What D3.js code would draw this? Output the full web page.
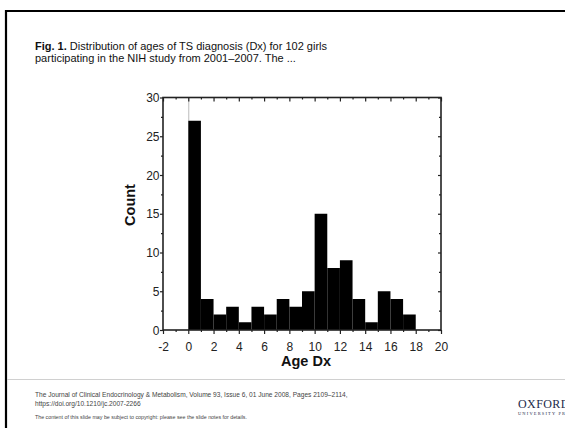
<!DOCTYPE html>
<html>
<head>
<meta charset="utf-8">
<script src="https://cdnjs.cloudflare.com/ajax/libs/d3/7.8.5/d3.min.js"></script>
<style type='text/css'>
body { margin: 0; background: #fff; }
svg { display: block; font-family: "Liberation Sans", Arial, sans-serif; }
.axisline { stroke: #222; stroke-width: 1.6; fill: none; }
.tick line { stroke: #222; stroke-width: 1.2; }
.ticklabel { font-size: 12px; fill: #222; }
.axislabel { font-size: 14.5px; font-weight: bold; fill: #111; }
.bar { fill: #000; }
.zero { stroke: #777; stroke-width: 1; stroke-dasharray: 1,1; }
.title { font-size: 11px; fill: #111; }
.foot { fill: #444; }
</style>
</head>
<body>
<div id="plot1"></div>
<script type='text/javascript'>
// histogram of age at diagnosis, 1-year bins starting at 0
var binStart = [0,1,2,3,4,5,6,7,8,9,10,11,12,13,14,15,16,17];
var counts   = [27,4,2,3,1,3,2,4,3,5,15,8,9,4,1,5,4,2];
var xTicks = [-2,0,2,4,6,8,10,12,14,16,18,20];
var yTicks = [0,5,10,15,20,25,30];

var width = 565, height = 428;
var svg = d3.select("div#plot1").append("svg")
    .attr("width", width)
    .attr("height", height);

// slide frame
svg.append("line").attr("x1",6).attr("y1",11).attr("x2",width).attr("y2",11)
   .attr("stroke","#000").attr("stroke-width",2.2);
svg.append("line").attr("x1",6).attr("y1",10).attr("x2",6).attr("y2",height)
   .attr("stroke","#000").attr("stroke-width",2.2);
svg.append("line").attr("x1",7).attr("y1",379.5).attr("x2",width).attr("y2",379.5)
   .attr("stroke","#d0d0d0").attr("stroke-width",1);

// caption
var t = svg.append("text").attr("class","title").attr("x",35).attr("y",50);
t.append("tspan").attr("font-weight","bold").text("Fig. 1.");
t.append("tspan").text(" Distribution of ages of TS diagnosis (Dx) for 102 girls");
svg.append("text").attr("class","title").attr("x",35).attr("y",62)
   .text("participating in the NIH study from 2001\u20132007. The ...");

var x0 = 163, x1 = 441, y0 = 330, y1 = 97.5;
var x = d3.scaleLinear().domain([-2,20]).range([x0,x1]);
var y = d3.scaleLinear().domain([0,30]).range([y0,y1]);

var g = svg.append("g");

// bars
g.selectAll("rect.bar").data(binStart).enter().append("rect")
  .attr("class","bar")
  .attr("x", function(d){ return x(d); })
  .attr("width", function(d){ return x(d+1)-x(d); })
  .attr("y", function(d,i){ return y(counts[i]); })
  .attr("height", function(d,i){ return y(0)-y(counts[i]); });

// dotted reference line at x=0
g.append("line").attr("class","zero")
  .attr("x1",x(0)+0.5).attr("x2",x(0)+0.5)
  .attr("y1",y(30)).attr("y2",y(counts[0]));

// axes
var fmt = function(d){ return String(d); };
var axBottom = d3.axisBottom(x).tickValues(xTicks).tickSize(4).tickFormat(fmt);
var axBottomMinor = d3.axisBottom(x).tickValues(d3.range(-1,20,2)).tickSize(2).tickFormat("");
var axTop = d3.axisBottom(x).tickValues(xTicks).tickSize(4).tickFormat("");
var axTopMinor = d3.axisBottom(x).tickValues(d3.range(-1,20,2)).tickSize(2).tickFormat("");
var axLeft = d3.axisLeft(y).tickValues(yTicks).tickSize(3).tickFormat(fmt);
var axLeftMinor = d3.axisLeft(y).tickValues(d3.range(2.5,30,5)).tickSize(2).tickFormat("");
var axRight = d3.axisLeft(y).tickValues(yTicks).tickSize(3).tickFormat("");
var axRightMinor = d3.axisLeft(y).tickValues(d3.range(2.5,30,5)).tickSize(2).tickFormat("");

function place(ax, tx, ty) {
  var a = g.append("g").attr("transform","translate(" + tx + "," + ty + ")").call(ax);
  a.select(".domain").remove();
  a.selectAll("text").attr("class","ticklabel").attr("fill",null);
  a.selectAll(".tick line").attr("stroke",null);
  return a;
}
var bx = place(axBottom, 0, y0);
bx.selectAll("text").attr("dy","0.71em").attr("y",12);
place(axBottomMinor, 0, y0);
place(axTop, 0, y1);
place(axTopMinor, 0, y1);
var ly = place(axLeft, x0, 0);
ly.selectAll("text").attr("x",-3.5).attr("dy","0.35em");
place(axLeftMinor, x0, 0);
place(axRight, x1, 0);
place(axRightMinor, x1, 0);

// frame of plot
g.append("rect").attr("class","axisline")
  .attr("x",x0).attr("y",y1).attr("width",x1-x0).attr("height",y0-y1);

// axis titles
g.append("text").attr("class","axislabel")
  .attr("text-anchor","middle")
  .attr("transform","translate(135,205) rotate(-90)")
  .text("Count");
g.append("text").attr("class","axislabel")
  .attr("text-anchor","middle")
  .attr("x",306).attr("y",366)
  .text("Age Dx");

// footer
svg.append("text").attr("class","foot").attr("x",35).attr("y",397)
  .attr("font-size","6.6px")
  .text("The Journal of Clinical Endocrinology & Metabolism, Volume 93, Issue 6, 01 June 2008, Pages 2109\u20132114,");
svg.append("text").attr("class","foot").attr("x",35).attr("y",406)
  .attr("font-size","6.6px")
  .text("https://doi.org/10.1210/jc.2007-2266");
svg.append("text").attr("class","foot").attr("x",35).attr("y",419)
  .attr("font-size","5.3px")
  .text("The content of this slide may be subject to copyright: please see the slide notes for details.");

// publisher mark (cut by the slide edge, as in the source)
svg.append("text").attr("x",518).attr("y",408)
  .attr("font-family","'Liberation Serif', serif").attr("font-size","12px")
  .attr("fill","#1b2a4a").attr("letter-spacing","0.4")
  .text("OXFORD");
svg.append("text").attr("x",518).attr("y",415)
  .attr("font-family","'Liberation Serif', serif").attr("font-size","4.4px")
  .attr("fill","#1b2a4a").attr("letter-spacing","1.2")
  .text("UNIVERSITY PRESS");
</script>
</body>
</html>
